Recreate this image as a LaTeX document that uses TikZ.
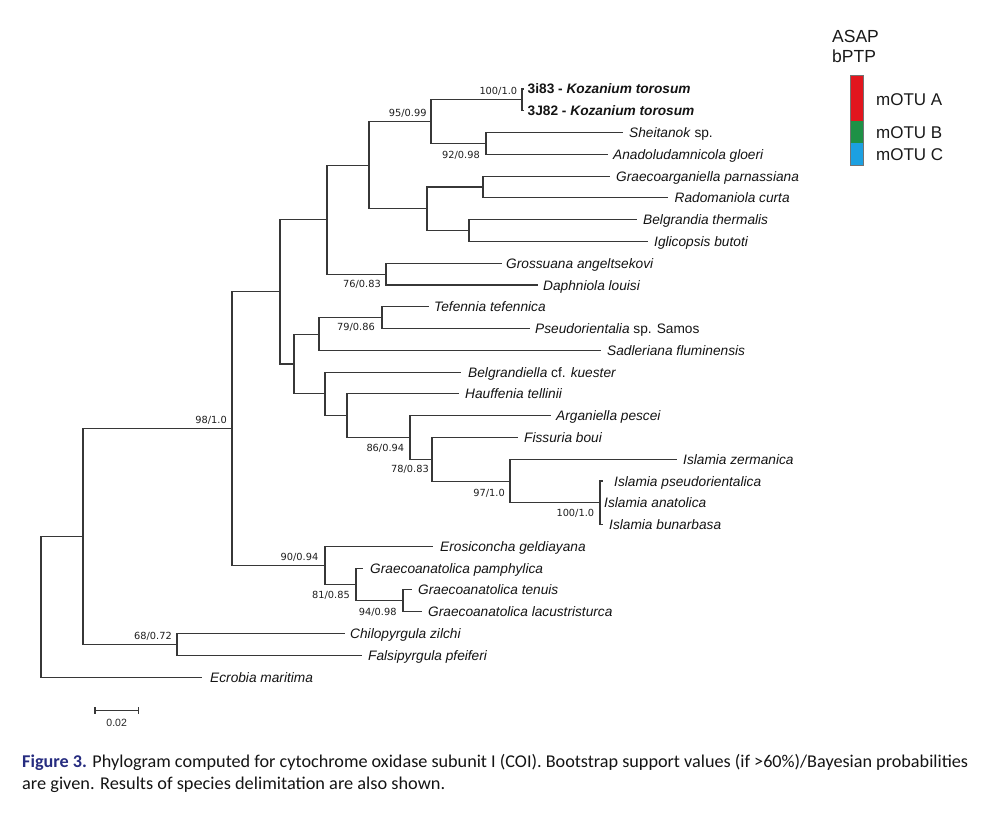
\documentclass[tikz,border=0pt]{standalone}
\usepackage{fontspec}
\usepackage{graphicx}
\setmainfont{Liberation Sans}
\newfontfamily\supfont{DejaVu Sans}
\newfontfamily\capfont{Carlito}
\usetikzlibrary{calc}
\definecolor{treeline}{RGB}{55,55,55}
\definecolor{capblue}{RGB}{38,44,128}
\definecolor{motuA}{RGB}{226,22,30}
\definecolor{motuB}{RGB}{30,145,70}
\definecolor{motuC}{RGB}{28,160,225}
\begin{document}
\begin{tikzpicture}[x=1pt,y=-1pt,
  br/.style={draw=treeline, line width=1.05pt},
  leaf/.style={anchor=west, inner xsep=#1, inner ysep=0pt, text height=10pt, text depth=0pt,
    font=\fontsize{13.7}{15}\selectfont\itshape, text=black!92},
  leaf/.default=6pt,
  sup/.style={font=\supfont\fontsize{9.8}{11}\selectfont, inner sep=0pt, text=black!88, anchor=base east},
  legtext/.style={font=\fontsize{17}{19}\selectfont, inner sep=0pt, anchor=west, text=black!90},
  capline/.style={font=\capfont\fontsize{18}{21}\selectfont, inner sep=0pt, anchor=base west, text=black!92}
]
\fill[white] (0,0) rectangle (1000,818);
\path[use as bounding box] (0,0) rectangle (1000,818);

% ---- internal nodes
\coordinate (R) at (41,606.8);
\coordinate (A) at (83,536.5);
\coordinate (N98) at (232,428.65);
\coordinate (B) at (280,291.85);
\coordinate (C) at (327,219.7);
\coordinate (D) at (369,165.25);
\coordinate (N95) at (431,121.7);
\coordinate (N100k) at (522,99.9);
\coordinate (N92) at (486,143.45);
\coordinate (P) at (427,208.8);
\coordinate (Q) at (483,187);
\coordinate (S) at (469,230.6);
\coordinate (N76) at (386,274.1);
\coordinate (F) at (294,364);
\coordinate (G) at (319,334.05);
\coordinate (N79) at (382,317.7);
\coordinate (H) at (325,393.9);
\coordinate (I) at (347,415.7);
\coordinate (N86) at (410,437.5);
\coordinate (N78) at (432,459.3);
\coordinate (N97) at (510,481.05);
\coordinate (N100i) at (600,502.8);
\coordinate (N90) at (325,565.45);
\coordinate (N81) at (356,584.5);
\coordinate (N94) at (403,600.8);
\coordinate (N68) at (177,644.4);

% ---- leaves
\node[leaf=4pt] (L0) at (523.5,89) {\upshape\bfseries 3i83 - \textit{Kozanium torosum}};
\node[leaf=4pt] (L1) at (523.5,110.8) {\upshape\bfseries 3J82 - \textit{Kozanium torosum}};
\node[leaf] (L2) at (623,132.6) {Sheitanok \textup{sp.}};
\node[leaf=5pt] (L3) at (608,154.3) {Anadoludamnicola gloeri};
\node[leaf] (L4) at (610,176.1) {Graecoarganiella parnassiana};
\node[leaf=6.5pt] (L5) at (668,197.9) {Radomaniola curta};
\node[leaf] (L6) at (637,219.7) {Belgrandia thermalis};
\node[leaf] (L7) at (648,241.5) {Iglicopsis butoti};
\node[leaf=4pt] (L8) at (502,263.2) {Grossuana angeltsekovi};
\node[leaf=5pt] (L9) at (538,285) {Daphniola louisi};
\node[leaf=5pt] (L10) at (429,306.8) {Tefennia tefennica};
\node[leaf=5pt] (L11) at (530,328.6) {Pseudorientalia \textup{sp. Samos}};
\node[leaf] (L12) at (601,350.4) {Sadleriana fluminensis};
\node[leaf=7pt] (L13) at (461,372.1) {Belgrandiella \textup{cf.} kuester};
\node[leaf] (L14) at (459,393.9) {Hauffenia tellinii};
\node[leaf=5pt] (L15) at (551,415.7) {Arganiella pescei};
\node[leaf] (L16) at (518,437.5) {Fissuria boui};
\node[leaf] (L17) at (677,459.3) {Islamia zermanica};
\node[leaf=11pt] (L18) at (603,481) {Islamia pseudorientalica};
\node[leaf=4pt] (L19) at (600,502.8) {Islamia anatolica};
\node[leaf] (L20) at (603,524.6) {Islamia bunarbasa};
\node[leaf=7pt] (L21) at (433,546.4) {Erosiconcha geldiayana};
\node[leaf=7pt] (L22) at (363,568.2) {Graecoanatolica pamphylica};
\node[leaf] (L23) at (412,589.9) {Graecoanatolica tenuis};
\node[leaf] (L24) at (422,611.7) {Graecoanatolica lacustristurca};
\node[leaf=5pt] (L25) at (345,633.5) {Chilopyrgula zilchi};
\node[leaf] (L26) at (362,655.3) {Falsipyrgula pfeiferi};
\node[leaf=8pt] (L27) at (202,677.1) {Ecrobia maritima};

% ---- branches
\foreach \p/\c in {R/A, R/L27.west, A/N98, A/N68, N98/B, N98/N90, B/C, B/F,
  C/D, C/N76, D/N95, D/P, N95/N100k, N95/N92, N100k/L0.west, N100k/L1.west,
  N92/L2.west, N92/L3.west, P/Q, P/S, Q/L4.west, Q/L5.west, S/L6.west, S/L7.west,
  N76/L8.west, N76/L9.west, F/G, F/H, G/N79, G/L12.west, N79/L10.west, N79/L11.west,
  H/L13.west, H/I, I/L14.west, I/N86, N86/L15.west, N86/N78, N78/L16.west, N78/N97,
  N97/L17.west, N97/N100i, N100i/L18.west, N100i/L19.west, N100i/L20.west,
  N90/L21.west, N90/N81, N81/L22.west, N81/N94, N94/L23.west, N94/L24.west,
  N68/L25.west, N68/L26.west}
  \draw[br] (\p) |- (\c);

% ---- support values
\node[sup] (s1) at (517.3,94.7) {100/1.0};
\node[sup] (s2) at (426.7,116.5) {95/0.99};
\node[sup] (s3) at (480,159) {92/0.98};
\node[sup] (s4) at (381,287.4) {76/0.83};
\node[sup] (s5) at (375,330) {79/0.86};
\node[sup] (s6) at (227,423.4) {98/1.0};
\node[sup] (s7) at (404.3,451) {86/0.94};
\node[sup] (s8) at (429,472.4) {78/0.83};
\node[sup] (s9) at (505,496) {97/1.0};
\node[sup] (s10) at (594.3,516.6) {100/1.0};
\node[sup] (s11) at (318.5,560.2) {90/0.94};
\node[sup] (s12) at (350,598.4) {81/0.85};
\node[sup] (s13) at (396.7,615) {94/0.98};
\node[sup] (s14) at (172,639.2) {68/0.72};

% ---- legend
\node[legtext, font=\fontsize{17.5}{19}\selectfont] (asap) at (832,36.7) {ASAP};
\node[legtext, font=\fontsize{17.5}{19}\selectfont] (bptp) at (832,56.7) {bPTP};
\fill[motuA] (850,75) rectangle (863.3,120.7);
\fill[motuB] (850,120.7) rectangle (863.3,143.3);
\fill[motuC] (850,143.3) rectangle (863.3,165.7);
\draw[black!55, line width=0.5pt] (850,75) rectangle (863.3,165.7);
\node[legtext] (ma) at (876,99.3) {mOTU A};
\node[legtext] (mb) at (876,132.7) {mOTU B};
\node[legtext] (mc) at (876,155) {mOTU C};

% ---- scale bar
\coordinate (sb1) at (95,710.7);
\coordinate (sb2) at (138.3,710.7);
\draw[br] (sb1) -- (sb2);
\draw[br] ($(sb1)+(0,-3.5)$) -- ($(sb1)+(0,3.5)$);
\draw[br] ($(sb2)+(0,-3.5)$) -- ($(sb2)+(0,3.5)$);
\node[font=\fontsize{10.5}{12}\selectfont, inner sep=0pt, text=black!85] (sbl) at (116.7,723.3) {0.02};

% ---- caption
\node[capline] (cap1) at (22,767) {\resizebox{946pt}{\height}{\textcolor{capblue}{\bfseries Figure 3.} Phylogram computed for cytochrome oxidase subunit I (COI). Bootstrap support values (if >60\%)/Bayesian probabilities}};
\node[capline] (cap2) at (22,789) {\resizebox{423pt}{\height}{are given. Results of species delimitation are also shown.}};
\end{tikzpicture}
\end{document}
